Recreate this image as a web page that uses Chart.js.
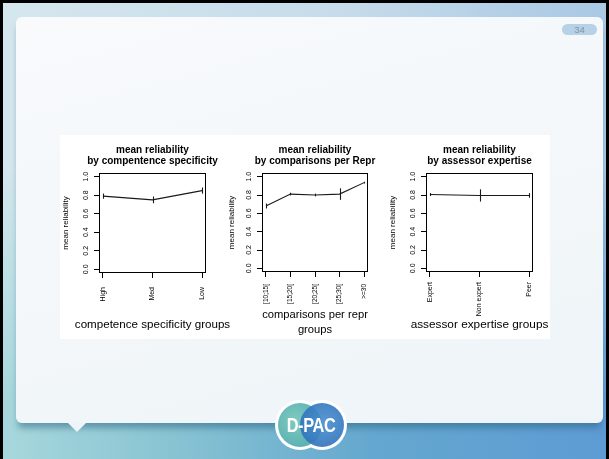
<!DOCTYPE html>
<html>
<head>
<meta charset="utf-8">
<title>Mean reliability</title>
<script src="https://cdn.jsdelivr.net/npm/chart.js@4.4.0/dist/chart.umd.min.js"></script>
<style>
  html, body { margin: 0; padding: 0; }
  body { width: 609px; height: 459px; overflow: hidden; position: relative;
         font-family: "Liberation Sans", Arial, sans-serif; }
  #bg { position: absolute; left: 0; top: 0; width: 609px; height: 459px;
        background: linear-gradient(90deg, #a8d8dc 0%, #86c2d2 30%, #64a7cf 62%, #5d9bd4 100%); }
  #bgTop { position: absolute; left: 0; top: 0; width: 609px; height: 459px;
           background: linear-gradient(90deg, #d5e7ee 0%, #c6dcea 55%, #a9c8e4 100%);
           -webkit-mask-image: linear-gradient(180deg, #000 0%, #000 35%, transparent 88%);
           mask-image: linear-gradient(180deg, #000 0%, #000 35%, transparent 88%); }
  #edge { position: absolute; left: 0; top: 0; width: 603px; height: 456px;
          border: 3px solid #000; border-bottom: none; }
  #card { position: absolute; left: 16px; top: 17px; width: 587px; height: 406px;
          border-radius: 6px;
          background: linear-gradient(165deg, #f8fafc 0%, #f3f7fa 55%, #eef4f8 100%);
          box-shadow: 0 7px 6px -2px rgba(40, 95, 125, 0.5); }
  #pointer { position: absolute; left: 68px; top: 423px; width: 0; height: 0;
             border-left: 9px solid transparent; border-right: 9px solid transparent;
             border-top: 9px solid #eef4f8; }
  #badge { position: absolute; left: 562px; top: 24px; width: 35px; height: 11px;
           border-radius: 6px; background: #b7d1e6; color: #8595a6;
           font-size: 9.5px; line-height: 11px; text-align: center; }
  #figure { position: absolute; left: 60px; top: 135px; width: 490px; height: 204px; background: #fff; }
  canvas { position: absolute; top: 135px; }
  #c1 { left: 60px; }
  #c2 { left: 226px; }
  #c3 { left: 387px; }
  #logo { position: absolute; left: 275px; top: 400px; width: 72px; height: 50px; }
  #logo .ring { position: absolute; top: 0; width: 50px; height: 50px; border-radius: 50%; background: #fff; }
  #logo .disc { position: absolute; top: 3px; width: 44px; height: 44px; border-radius: 50%; }
  #logo .t { position: absolute; left: 0; top: 0; width: 72px; height: 50px; line-height: 50px;
             text-align: center; color: #fff; font-weight: bold; font-size: 21px;
             font-family: "Liberation Sans Narrow", "Liberation Sans", sans-serif;
             transform: scaleX(0.78); letter-spacing: -0.5px; }
</style>
</head>
<body>
<div id="bg"></div>
<div id="bgTop"></div>
<div id="edge"></div>
<div id="card"></div>
<div id="pointer"></div>
<div id="badge">34</div>
<div id="figure"></div>
<canvas id="c1" width="185" height="204"></canvas>
<canvas id="c2" width="178" height="204"></canvas>
<canvas id="c3" width="185" height="204"></canvas>
<div id="logo">
  <div class="ring" style="left:0"></div>
  <div class="ring" style="left:22px"></div>
  <div class="disc" style="left:3px;background:radial-gradient(circle at 40% 40%, #7fcabf, #4ea8b0);"></div>
  <div class="disc" style="left:25px;background:radial-gradient(circle at 55% 45%, rgba(72,142,206,0.9), rgba(42,106,182,0.92));"></div>
  <div class="t">D-PAC</div>
</div>
<script>
// Mean reliability by competence specificity
const compGroups = ['High', 'Med', 'Low'];
const compMeans  = [0.79, 0.75, 0.85];
const compErr    = [0.028, 0.036, 0.033];

// Mean reliability by number of comparisons per representation
const reprGroups = ['[10;15[', '[15;20[', '[20;25[', '[25;30[', '>=30'];
const reprMeans  = [0.68, 0.81, 0.80, 0.81, 0.935];
const reprErr    = [0.027, 0.015, 0.015, 0.063, 0.01];

// Mean reliability by assessor expertise
const expGroups = ['Expert', 'Non expert', 'Peer'];
const expMeans  = [0.805, 0.795, 0.795];
const expErr    = [0.016, 0.067, 0.025];

const yTicks = [0, 0.2, 0.4, 0.6, 0.8, 1.0];
const FONT = '"Liberation Sans", Arial, sans-serif';

// vertical error bars at each mean
const errorBars = {
  id: 'errorBars',
  afterDatasetsDraw(chart) {
    const { ctx, scales: { x, y } } = chart;
    const ds = chart.data.datasets[0];
    ctx.save();
    ctx.strokeStyle = '#1a1a1a';
    ctx.lineWidth = 1.1;
    ds.data.forEach((p, i) => {
      const e = ds.errors[i];
      const px = Math.round(x.getPixelForValue(p.x)) + 0.5;
      ctx.beginPath();
      ctx.moveTo(px, y.getPixelForValue(p.y - e));
      ctx.lineTo(px, y.getPixelForValue(p.y + e));
      ctx.stroke();
    });
    ctx.restore();
  }
};

// frame around the plotting region
const plotBox = {
  id: 'plotBox',
  afterDraw(chart) {
    const { ctx, chartArea: a } = chart;
    const l = Math.round(a.left) + 0.5, t = Math.round(a.top) + 0.5;
    const r = Math.round(a.right) - 0.5, b = Math.round(a.bottom) - 0.5;
    ctx.save();
    ctx.strokeStyle = '#000';
    ctx.lineWidth = 1;
    ctx.strokeRect(l, t, r - l, b - t);
    ctx.restore();
  }
};

function meanPlot(id, groups, means, errs, cfg) {
  const n = groups.length;
  const ext = 0.04 * (n - 1);
  const tickGrid = { drawOnChartArea: false, drawTicks: true, tickLength: 5, color: '#000', lineWidth: 1 };
  return new Chart(document.getElementById(id), {
    type: 'line',
    data: {
      datasets: [{
        data: means.map((v, i) => ({ x: i + 1, y: v })),
        errors: errs,
        borderColor: '#1a1a1a',
        borderWidth: 1.1,
        pointRadius: 0,
        tension: 0,
        fill: false
      }]
    },
    options: {
      responsive: false,
      animation: false,
      events: [],
      layout: { padding: 0 },
      plugins: {
        legend: { display: false },
        tooltip: { enabled: false },
        title: {
          display: true,
          text: cfg.title,
          color: '#000',
          font: { family: FONT, size: 10, weight: 'bold', lineHeight: 1.1 },
          padding: { top: 9.5, bottom: 6.5 }
        },
        subtitle: {
          display: true,
          position: 'bottom',
          text: cfg.xTitle,
          color: '#000',
          font: { family: FONT, size: cfg.xTitleSize, lineHeight: cfg.xTitleLine },
          padding: { top: cfg.xTitlePadTop, bottom: cfg.xTitlePadBottom }
        }
      },
      scales: {
        x: {
          type: 'linear',
          bounds: 'data',
          min: 1 - ext,
          max: n + ext,
          afterBuildTicks: s => { s.ticks = groups.map((_, i) => ({ value: i + 1 })); },
          afterFit: s => { s.height = cfg.xHeight; },
          grid: tickGrid,
          border: { display: false },
          ticks: {
            autoSkip: false,
            minRotation: 90,
            maxRotation: 90,
            padding: cfg.xLabelPad,
            color: '#000',
            font: { family: FONT, size: cfg.xLabelSize },
            callback: v => groups[Math.round(v) - 1]
          }
        },
        y: {
          bounds: 'data',
          min: -0.04,
          max: 1.04,
          afterBuildTicks: s => { s.ticks = yTicks.map(v => ({ value: v })); },
          afterFit: s => { s.width = cfg.yWidth; },
          grid: tickGrid,
          border: { display: false },
          ticks: {
            minRotation: 90,
            maxRotation: 90,
            crossAlign: 'center',
            padding: 2.8,
            color: '#000',
            font: { family: FONT, size: 7 },
            callback: v => Number(v).toFixed(1)
          },
          title: {
            display: true,
            text: 'mean reliability',
            color: '#000',
            font: { family: FONT, size: 8, lineHeight: 1.2 },
            padding: { top: 1.2, bottom: 0 }
          }
        },
        // empty right-hand margin that keeps the titles centred on the plot
        yMargin: {
          position: 'right',
          display: true,
          grid: { display: false },
          border: { display: false },
          ticks: { display: false },
          afterFit: s => { s.width = cfg.yWidth; }
        }
      }
    },
    plugins: [errorBars, plotBox]
  });
}

meanPlot('c1', compGroups, compMeans, compErr, {
  title: ['mean reliability', 'by compentence specificity'],
  xTitle: 'competence specificity groups',
  xTitleSize: 11.6, xTitleLine: '14px', xTitlePadTop: -1, xTitlePadBottom: 7,
  xHeight: 46, xLabelPad: 9, xLabelSize: 7, yWidth: 39
});

meanPlot('c2', reprGroups, reprMeans, reprErr, {
  title: ['mean reliability', 'by comparisons per Repr'],
  xTitle: ['comparisons per repr', 'groups'],
  xTitleSize: 11.2, xTitleLine: '15px', xTitlePadTop: -1, xTitlePadBottom: 1.5,
  xHeight: 36.5, xLabelPad: 7, xLabelSize: 6.5, yWidth: 36
});

meanPlot('c3', expGroups, expMeans, expErr, {
  title: ['mean reliability', 'by assessor expertise'],
  xTitle: 'assessor expertise groups',
  xTitleSize: 11.8, xTitleLine: '14px', xTitlePadTop: -1, xTitlePadBottom: 7,
  xHeight: 47, xLabelPad: 5, xLabelSize: 7, yWidth: 39
});
</script>
</body>
</html>
